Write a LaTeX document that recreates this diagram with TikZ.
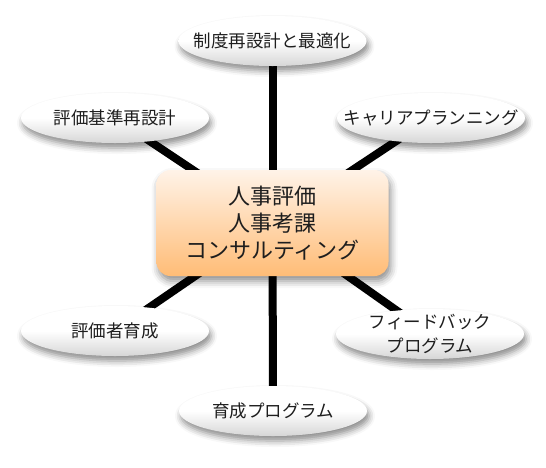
\documentclass[tikz,border=0pt]{standalone}
\usepackage{fontspec}
\setmainfont{Noto Sans CJK JP}
\usetikzlibrary{shapes.geometric,shadows.blur}
\pgfdeclarelayer{bg}
\pgfsetlayers{bg,main}
\definecolor{hubtop}{RGB}{255,243,232}
\definecolor{hubbot}{RGB}{255,188,118}
\definecolor{txt}{RGB}{30,30,30}
\begin{document}
\begin{tikzpicture}[x=1pt,y=-1pt,
  leaf/.style={ellipse, minimum width=188pt, minimum height=50pt, inner xsep=-40pt, inner ysep=-15pt,
    top color=white, bottom color=black!16, middle color=white,
    font=\fontsize{17.5}{24}\selectfont, text=txt, align=center,
    blur shadow={shadow xshift=2pt, shadow yshift=-5pt, shadow blur radius=6pt, shadow opacity=45}},
  hub/.style={rectangle, rounded corners=14pt, minimum width=232pt, minimum height=106pt, inner sep=0pt,
    top color=hubtop, bottom color=hubbot,
    font=\fontsize{22}{27}\selectfont, text=txt, align=center,
    blur shadow={shadow xshift=2pt, shadow yshift=-5pt, shadow blur radius=7pt, shadow opacity=45}},
  link/.style={line width=8pt, black}]
\useasboundingbox (0,0) rectangle (546,467);
\node[hub] (hub) at (272.5,223) {人事評価\\人事考課\\コンサルティング};
\node[leaf] (top) at (272.5,41) {制度再設計と最適化};
\node[leaf] (tl) at (115,118) {評価基準再設計};
\node[leaf] (tr) at (431,118) {キャリアプランニング};
\node[leaf] (bl) at (115,331) {評価者育成};
\node[leaf] (br) at (430,334) {フィードバック\\プログラム};
\node[leaf] (bot) at (273,411) {育成プログラム};
\begin{pgfonlayer}{bg}
\foreach \n in {top,tl,tr,bl,br,bot}
  \draw[link] (hub.center) -- (\n.center);
\end{pgfonlayer}
\end{tikzpicture}
\end{document}
